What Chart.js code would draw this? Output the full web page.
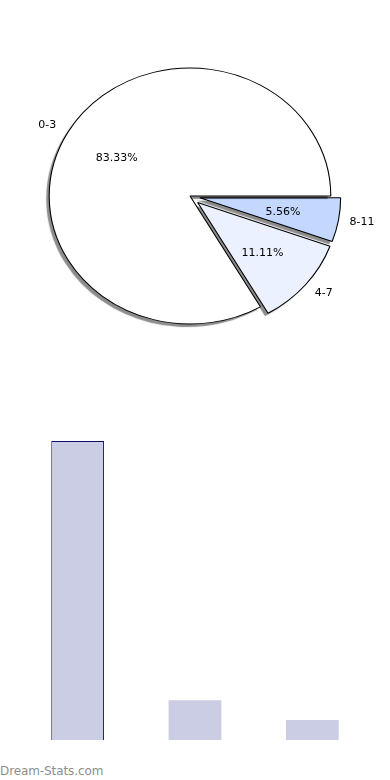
<!DOCTYPE html>
<html>
<head>
<meta charset="utf-8">
<script src="https://cdn.jsdelivr.net/npm/chart.js@4"></script>
<style>
	body { margin: 0; background: #fff; width: 390px; height: 780px; position: relative; overflow: hidden; }
	#pie-box { position: absolute; left: 0; top: 0; width: 390px; height: 392px; }
	#bar-box { position: absolute; left: 0; top: 420px; width: 390px; height: 330px; }
	#brand { position: absolute; left: 0; top: 764px; font: 12px "DejaVu Sans", sans-serif; color: #8e8e8e; letter-spacing: -0.1px; }
</style>
</head>
<body>
<div id="pie-box"><canvas id="pie-chart"></canvas></div>
<div id="bar-box"><canvas id="bar-chart"></canvas></div>
<div id="brand">Dream-Stats.com</div>
<script>
(function () {
	"use strict";
	var labels = ["0-3", "4-7", "8-11"];
	var counts = [15, 2, 1];
	var percents = ["83.33%", "11.11%", "5.56%"];
	var sliceColors = ["#ffffff", "#ebf1ff", "#c4d7fd"];
	var explode = [0, 10, 10];

	var stretch = 1.1; // pie is drawn as an ellipse

	// pie goes counter-clockwise from 3 o'clock, so feed Chart.js the reverse order
	var order = [2, 1, 0];
	function pick(arr) { return order.map(function (i) { return arr[i]; }); }

	var ellipsePlugin = {
		id: "ellipse",
		afterDatasetUpdate: function (chart, args) {
			args.meta.data.forEach(function (arc, j) {
				var d = pick(explode)[j];
				if (!d) return;
				var mid = (arc.startAngle + arc.endAngle) / 2;
				arc.x += Math.cos(mid) * d / stretch;
				arc.y += Math.sin(mid) * d;
			});
		},
		// draw each slice twice: a borderless pass that casts the shadow, then the real one
		beforeDatasetsDraw: function (chart) {
			var ctx = chart.ctx;
			var a = chart.chartArea;
			var cx = (a.left + a.right) / 2;
			ctx.save();
			ctx.translate(cx, 0);
			ctx.scale(stretch, 1);
			ctx.translate(-cx, 0);
			chart.getDatasetMeta(0).data.forEach(function (arc) {
				var opts = arc.options;
				ctx.save();
				ctx.shadowColor = "rgba(0,0,0,0.45)";
				ctx.shadowOffsetX = -3;
				ctx.shadowOffsetY = 3;
				ctx.shadowBlur = 1;
				arc.options = Object.assign({}, opts, { borderWidth: 0 });
				arc.draw(ctx);
				arc.options = opts;
				ctx.restore();
				arc.draw(ctx);
			});
			ctx.restore();
			return false;
		},
		afterDraw: function (chart) {
			var ctx = chart.ctx;
			var a = chart.chartArea;
			var cx = (a.left + a.right) / 2;
			var meta = chart.getDatasetMeta(0);
			var pcts = pick(percents);
			var labs = pick(labels);
			ctx.save();
			ctx.fillStyle = "#000";
			ctx.font = "11px 'DejaVu Sans', sans-serif";
			ctx.textAlign = "center";
			ctx.textBaseline = "middle";
			meta.data.forEach(function (arc, j) {
				var mid = (arc.startAngle + arc.endAngle) / 2;
				var r = arc.outerRadius;
				var px = cx + (arc.x - cx) * stretch;
				var py = arc.y;
				ctx.fillText(pcts[j], px + Math.cos(mid) * r * 0.6 * stretch, py + Math.sin(mid) * r * 0.6 + 1);
				ctx.fillText(labs[j], px + Math.cos(mid) * r * 1.17 * stretch, py + Math.sin(mid) * r * 1.1);
			});
			ctx.restore();
		}
	};

	new Chart(document.getElementById("pie-chart"), {
		type: "pie",
		data: {
			labels: pick(labels),
			datasets: [
				{
					data: pick(counts),
					backgroundColor: pick(sliceColors),
					borderColor: "#000000",
					borderWidth: 1,
					radius: 128,
				},
			],
		},
		options: {
			responsive: true,
			maintainAspectRatio: false,
			animation: false,
			rotation: 90,
			layout: { padding: { right: 10 } },
			plugins: { legend: { display: false }, tooltip: { enabled: false } },
		},
		plugins: [ellipsePlugin],
	});

	new Chart(document.getElementById("bar-chart"), {
		type: "bar",
		data: {
			labels: labels,
			datasets: [
				{
					data: counts,
					backgroundColor: "#cbcde4",
					borderColor: "#0c0c6a",
					borderWidth: [1, 0, 0],
					barPercentage: 0.45,
					categoryPercentage: 1,
				},
			],
		},
		options: {
			responsive: true,
			maintainAspectRatio: false,
			animation: false,
			layout: { padding: { left: 19, right: 19, top: 21, bottom: 10 } },
			scales: {
				x: { display: false },
				y: { display: false, min: 0, max: 15 },
			},
			plugins: { legend: { display: false }, tooltip: { enabled: false } },
		},
	});
})();
</script>
</body>
</html>
